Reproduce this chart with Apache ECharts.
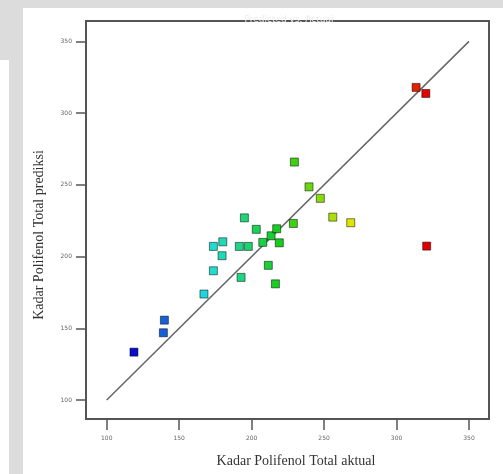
<!DOCTYPE html>
<html>
<head>
<meta charset="utf-8">
<script src="https://cdn.jsdelivr.net/npm/echarts@6/dist/echarts.min.js"></script>
<style>
html,body{margin:0;padding:0;background:#fff;}
#chart{width:503px;height:474px;}
</style>
</head>
<body>
<div id="chart"></div>
<script>
const actual = [118.8, 139.1, 139.8, 167.1, 173.6, 173.6, 179.6, 180.1, 191.5, 192.7, 195.0, 197.7, 203.2, 207.7, 211.5, 213.4, 216.4, 217.3, 219.1, 228.8, 229.5, 239.6, 247.4, 256.0, 268.4, 313.5, 320.2, 320.8];
const predicted = [133.4, 146.9, 155.7, 173.9, 190.1, 207.1, 200.6, 210.3, 207.1, 185.5, 227.0, 207.1, 219.0, 209.9, 193.9, 214.5, 181.0, 219.4, 209.6, 223.1, 265.9, 248.6, 240.6, 227.5, 223.6, 317.9, 313.7, 207.3];
const tickValues = [100, 150, 200, 250, 300, 350];
const identityLine = [[100, 100], [350, 350]];
const titleText = 'Predicted vs. Actual';
const xName = 'Kadar Polifenol Total aktual';
const yName = 'Kadar Polifenol Total prediksi';

const points = actual.map((a, i) => [a, predicted[i]]);
const chart = echarts.init(document.getElementById('chart'), null, {renderer: 'canvas'});

const axisCommon = {
  type: 'value',
  splitLine: {show: false},
  axisLine: {show: true, onZero: false, lineStyle: {color: '#555', width: 2}},
  axisTick: {show: true, inside: false, customValues: tickValues, lineStyle: {color: '#555', width: 1.5}},
  axisLabel: {customValues: tickValues, color: '#666', fontSize: 6, fontFamily: 'DejaVu Sans'}
};

chart.setOption({
  animation: false,
  backgroundColor: '#fff',
  graphic: [
    {type: 'rect', silent: true, z: -10, shape: {x: 0, y: 0, width: 503, height: 8}, style: {fill: '#dcdcdc'}},
    {type: 'rect', silent: true, z: -10, shape: {x: 9, y: 0, width: 14, height: 474}, style: {fill: '#dcdcdc'}},
    {type: 'rect', silent: true, z: -10, shape: {x: 0, y: 0, width: 9, height: 60}, style: {fill: '#dcdcdc'}}
  ],
  title: {
    text: titleText,
    left: 284, top: 10, textAlign: 'center',
    textStyle: {color: '#ececec', fontSize: 9, fontWeight: 'normal', fontFamily: 'DejaVu Sans'}
  },
  grid: {left: 86, top: 21, right: 14, bottom: 55, show: true, borderColor: '#555', borderWidth: 2, backgroundColor: '#fff'},
  xAxis: Object.assign({}, axisCommon, {
    min: 85.7, max: 363.8,
    axisTick: Object.assign({}, axisCommon.axisTick, {length: 11}),
    axisLabel: Object.assign({}, axisCommon.axisLabel, {margin: 16}),
    name: xName, nameLocation: 'middle', nameGap: 35,
    nameTextStyle: {fontFamily: 'Liberation Serif', fontSize: 14, color: '#333', padding: [0, 0, 0, 17]}
  }),
  yAxis: Object.assign({}, axisCommon, {
    min: 86.8, max: 364.2,
    axisTick: Object.assign({}, axisCommon.axisTick, {length: 10}),
    axisLabel: Object.assign({}, axisCommon.axisLabel, {margin: 14}),
    name: yName, nameLocation: 'middle', nameGap: 40,
    nameTextStyle: {fontFamily: 'Liberation Serif', fontSize: 14, color: '#333', padding: [0, 30, 0, 0]}
  }),
  visualMap: {
    show: false, type: 'continuous', dimension: 0, seriesIndex: 0,
    min: 118.8, max: 320.8,
    inRange: {color: ['#0a0ad0', '#22dede', '#18cc18', '#e6e600', '#e00000']}
  },
  series: [
    {
      type: 'scatter', data: points, symbol: 'rect', symbolSize: 8, z: 3,
      itemStyle: {opacity: 1, borderColor: 'rgba(0,0,0,0.5)', borderWidth: 1}
    },
    {
      type: 'line', data: identityLine, symbol: 'none', z: 2,
      lineStyle: {color: '#666', width: 1.5}
    }
  ]
});
</script>
</body>
</html>
